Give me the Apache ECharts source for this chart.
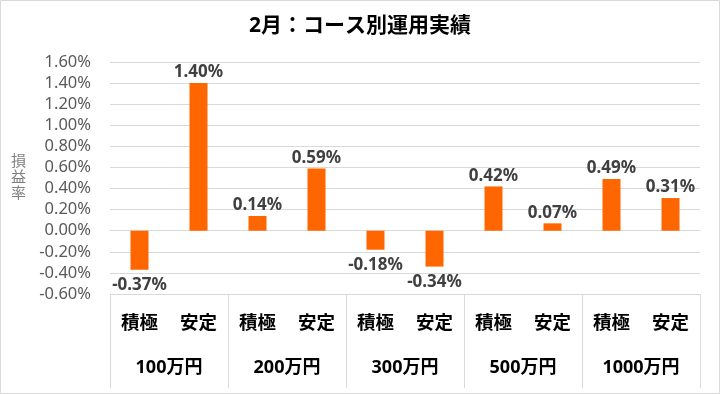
<!DOCTYPE html>
<html><head><meta charset="utf-8">
<script src="https://cdn.jsdelivr.net/npm/echarts@6/dist/echarts.min.js"></script>
<style>html,body{margin:0;padding:0;background:#fff}#c{width:720px;height:394px}</style>
</head><body><div id="c"></div>
<script>
const titleText = '2月：コース別運用実績';
const courses = ['積極','安定','積極','安定','積極','安定','積極','安定','積極','安定'];
const groups = ['100万円','200万円','300万円','500万円','1000万円'];
const values = [-0.37, 1.40, 0.14, 0.59, -0.18, -0.34, 0.42, 0.07, 0.49, 0.31];
const yName = '損益率';

const FONT = '"Noto Sans", "Noto Sans CJK JP", sans-serif';
const chart = echarts.init(document.getElementById('c'), null, {renderer:'canvas'});
chart.setOption({
  animation:false,
  textStyle:{fontFamily:FONT},
  title:{text:titleText,left:'center',top:11,textStyle:{fontFamily:FONT,fontSize:21,fontWeight:'bold',color:'#000'}},
  graphic:[{type:'rect',shape:{x:0.5,y:0.5,width:719,height:393},style:{fill:'none',stroke:'#d9d9d9',lineWidth:1},silent:true}],
  grid:{left:110,right:20,top:62,bottom:100},
  xAxis:[
    {type:'category',data:courses,position:'bottom',
     axisLine:{show:true,lineStyle:{color:'#d9d9d9'}},axisTick:{show:false},
     axisLabel:{margin:20,fontSize:18.5,fontWeight:'bold',color:'#000',fontFamily:FONT,interval:0}},
    {type:'category',data:groups,position:'bottom',
     axisLine:{show:false},axisTick:{show:true,length:94,lineStyle:{color:'#d9d9d9'}},
     axisLabel:{margin:65,fontSize:18,fontWeight:'bold',color:'#000',fontFamily:FONT,interval:0}}
  ],
  yAxis:{type:'value',min:-0.6,max:1.6,interval:0.2,
    name:yName.split('').join('\n'),nameLocation:'middle',nameRotate:0,nameGap:84,
    nameTextStyle:{color:'#7f7f7f',fontSize:15,lineHeight:16,fontFamily:FONT},
    axisLine:{show:false},axisTick:{show:false},
    splitLine:{lineStyle:{color:'#d9d9d9'}},
    axisLabel:{margin:19,fontSize:16.5,color:'#595959',fontFamily:FONT,formatter:v=>v.toFixed(2)+'%'}},
  series:[{type:'bar',xAxisIndex:0,barWidth:18,
    data:values.map(v=>({value:v,label:{position:v<0?'bottom':'top',distance:v<0?7:2}})),
    itemStyle:{color:'#FF6600'},
    label:{show:true,fontSize:17,fontWeight:'bold',color:'#404040',fontFamily:FONT,formatter:p=>p.value.toFixed(2)+'%'}
  }]
});
</script></body></html>
